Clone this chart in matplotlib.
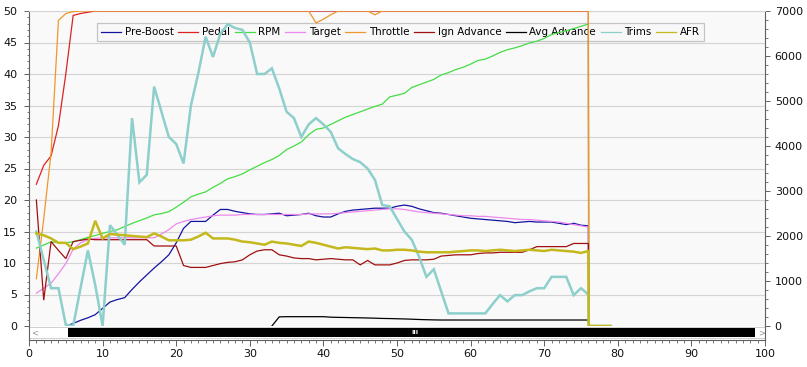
import numpy as np
import matplotlib
matplotlib.use("Agg")
import matplotlib.pyplot as plt
from matplotlib.ticker import MultipleLocator
from matplotlib.patches import Rectangle
from matplotlib.lines import Line2D

plt.rcParams['font.family'] = ['DejaVu Sans']

# ---------------- data ----------------
samples = list(range(1, 77))
end_samples = [76.05, 77, 78, 79]
end_values = [0, 0, 0, 0]
nan = np.nan

pre_boost = [nan, nan, nan, nan, 0.0, 0.4, 0.9, 1.3, 1.8, 2.8,
             3.8, 4.2, 4.5, 5.8, 7.0, 8.1, 9.2, 10.2, 11.3, 13.2,
             15.5, 16.6, 16.6, 16.6, 17.6, 18.5, 18.5, 18.2, 18.0, 17.8,
             17.7, 17.7, 17.8, 17.9, 17.5, 17.6, 17.7, 17.9, 17.5, 17.3,
             17.3, 17.8, 18.2, 18.4, 18.5, 18.6, 18.7, 18.7, 18.7, 19.0,
             19.2, 19.0, 18.6, 18.3, 18.0, 17.9, 17.7, 17.5, 17.3, 17.1,
             17.0, 16.9, 16.8, 16.7, 16.6, 16.4, 16.5, 16.6, 16.5, 16.5,
             16.5, 16.3, 16.1, 16.3, 16.0, 15.9]

pedal = [22.5, 25.5, 27.0, 31.8, 40.0, 49.3, 49.6, 49.8] + [50.0] * 68

rpm = [1730, 1800, 1870, 1850, 1850, 1870, 1920, 1970, 2010, 2060,
       2100, 2140, 2210, 2280, 2340, 2400, 2470, 2500, 2540, 2640,
       2750, 2870, 2930, 2980, 3080, 3170, 3270, 3320, 3380, 3470,
       3550, 3630, 3700, 3790, 3920, 4000, 4090, 4250, 4370, 4400,
       4480, 4560, 4640, 4700, 4760, 4820, 4880, 4930, 5090, 5130,
       5170, 5300, 5360, 5420, 5480, 5580, 5630, 5700, 5750, 5820,
       5900, 5930, 6000, 6080, 6140, 6180, 6230, 6290, 6330, 6390,
       6480, 6520, 6560, 6610, 6660, 6710]

target = [5.2, 6.0, 6.8, 8.3, 9.9, 12.2, 13.2, 13.7, 13.9, 14.0,
          14.0, 14.0, 14.0, 14.0, 14.0, 14.0, 14.0, 14.6, 15.3, 16.2,
          16.6, 16.9, 17.1, 17.3, 17.5, 17.6, 17.6, 17.6, 17.7, 17.7,
          17.7, 17.7, 17.7, 17.7, 17.7, 17.7, 17.7, 17.8, 17.8, 17.8,
          17.8, 17.9, 18.0, 18.1, 18.2, 18.3, 18.4, 18.5, 18.6, 18.6,
          18.5, 18.3, 18.1, 18.0, 17.9, 17.8, 17.7, 17.6, 17.5, 17.5,
          17.4, 17.4, 17.3, 17.2, 17.1, 17.0, 16.9, 16.9, 16.8, 16.7,
          16.6, 16.5, 16.3, 16.1, 15.9, 15.7]

throttle = [7.5, 17.0, 27.5, 48.5, 49.6, 49.9] + [50.0] * 32 + \
           [48.1, 48.7, 49.4, 50.0, 50.0, 50.0, 50.0, 50.0, 49.4, 50.0] + [50.0] * 28

ign_advance = [20.0, 4.1, 13.4, 12.0, 10.7, 13.4, 13.6, 13.8, 13.7, 13.7,
               13.7, 13.7, 13.7, 13.7, 13.7, 13.7, 12.7, 12.7, 12.7, 12.7,
               9.6, 9.3, 9.3, 9.3, 9.6, 9.9, 10.1, 10.2, 10.5, 11.3,
               11.9, 12.1, 12.1, 11.3, 11.1, 10.8, 10.7, 10.7, 10.5, 10.6,
               10.7, 10.6, 10.5, 10.5, 9.7, 10.4, 9.7, 9.7, 9.7, 10.0,
               10.4, 10.5, 10.5, 10.5, 10.6, 11.1, 11.2, 11.3, 11.3, 11.3,
               11.5, 11.6, 11.6, 11.7, 11.7, 11.7, 11.7, 12.1, 12.6, 12.6,
               12.6, 12.6, 12.6, 13.1, 13.1, 13.1]

avg_advance = [nan] * 32 + [0.0, 1.45, 1.48, 1.48, 1.48, 1.48, 1.48, 1.48,
                            1.40, 1.37, 1.35, 1.32, 1.30, 1.27, 1.24, 1.20, 1.18, 1.15,
                            1.12, 1.08, 1.03, 1.00, 0.97] + [0.95] * 21

trims = [15.0, 10.5, 6.0, 6.0, 0.2, 0.0, 6.0, 12.0, 6.5, 0.0,
         16.0, 14.5, 12.9, 33.0, 22.8, 24.0, 38.0, 34.0, 30.0, 28.9,
         25.8, 35.0, 40.1, 45.9, 42.7, 46.4, 47.9, 47.3, 47.0, 45.0,
         40.0, 40.0, 40.9, 37.7, 34.0, 33.0, 30.0, 32.0, 33.0, 32.0,
         30.8, 28.2, 27.3, 26.5, 26.0, 25.0, 23.2, 19.2, 19.0, 17.0,
         15.0, 13.7, 11.0, 7.8, 9.0, 5.5, 2.0, 2.0, 2.0, 2.0,
         2.0, 2.0, 3.5, 4.9, 3.9, 4.9, 4.9, 5.5, 6.0, 6.0,
         7.8, 7.8, 7.8, 4.9, 6.0, 5.0]

afr = [14.7, 14.4, 13.9, 13.2, 13.2, 12.2, 12.6, 13.1, 16.7, 13.9,
       14.6, 14.5, 14.4, 14.3, 14.2, 14.1, 14.7, 14.2, 13.6, 13.6,
       13.6, 13.7, 14.2, 14.8, 13.9, 13.9, 13.9, 13.7, 13.4, 13.3,
       13.1, 12.9, 13.4, 13.2, 13.1, 12.9, 12.7, 13.4, 13.2, 12.9,
       12.6, 12.3, 12.5, 12.4, 12.3, 12.2, 12.3, 12.0, 12.0, 12.1,
       12.1, 12.0, 11.8, 11.7, 11.7, 11.7, 11.7, 11.8, 11.9, 12.0,
       12.0, 11.9, 12.0, 12.1, 12.0, 11.9, 12.0, 12.1, 12.0, 11.9,
       12.1, 12.0, 11.9, 11.8, 11.6, 11.9]

left_max = 50
rpm_max = 7000

# ---------------- figure ----------------
W, H = 807, 367
fig = plt.figure(figsize=(W / 100, H / 100), dpi=100)
fig.patch.set_facecolor('white')

def fx(px):
    return px / W

def fy(py):
    return 1 - py / H

ax_l, ax_r, ax_t, ax_b = 29, 765, 11, 326
ax = fig.add_axes([fx(ax_l), fy(ax_b), fx(ax_r) - fx(ax_l), fy(ax_t) - fy(ax_b)])
ax.set_facecolor('#f9f9f9')

xs = samples + end_samples

def full(vals):
    return list(vals) + end_values

rpm_scaled = [v * left_max / rpm_max for v in rpm]

series = [
    ("Pre-Boost", pre_boost, '#1414a0', 0.9),
    ("Pedal", pedal, '#dd2222', 0.9),
    ("RPM", rpm_scaled, '#44dd44', 0.9),
    ("Target", target, '#ee88ee', 0.9),
    ("Throttle", throttle, '#f0962a', 0.9),
    ("Ign Advance", ign_advance, '#a01010', 0.9),
    ("Avg Advance", avg_advance, '#000000', 0.9),
    ("Trims", trims, '#8ccfcb', 1.8),
    ("AFR", afr, '#c4b81c', 1.8),
]

handles = []
for i, (name, vals, color, lw) in enumerate(series):
    ax.plot(xs, full(vals), color=color, lw=lw, label=name,
            zorder=3 + i * 0.1, solid_joinstyle='miter')
    handles.append(Line2D([], [], color=color, lw=0.9))

ax.set_xlim(0, 100)
ax.set_ylim(0, left_max)

ax.yaxis.set_major_locator(MultipleLocator(5))
ax.yaxis.set_minor_locator(MultipleLocator(1))
ax.xaxis.set_major_locator(MultipleLocator(10))
ax.xaxis.set_minor_locator(MultipleLocator(1))

ax.set_axisbelow(True)
ax.grid(axis='y', which='major', color='#d4d4d4', lw=0.8)

spine_col = '#606060'
ax.spines['top'].set_color('#d4d4d4')
ax.spines['top'].set_linewidth(0.8)
ax.spines['right'].set_visible(False)
ax.spines['left'].set_color(spine_col)
ax.spines['left'].set_linewidth(0.8)
ax.spines['bottom'].set_position(('outward', 10.1))
ax.spines['bottom'].set_color(spine_col)
ax.spines['bottom'].set_linewidth(0.8)

ax.tick_params(axis='y', which='major', direction='out', length=3.5, width=0.7,
               color=spine_col, labelsize=8, pad=5, labelcolor='#111111')
ax.tick_params(axis='y', which='minor', direction='out', length=1.8, width=0.6, color=spine_col)
ax.tick_params(axis='x', which='major', direction='out', length=4, width=0.7,
               color=spine_col, labelsize=8, pad=2.5, labelcolor='#111111')
ax.tick_params(axis='x', which='minor', direction='out', length=2, width=0.6, color=spine_col)
ax.xaxis.get_offset_text().set_visible(False)
ax.yaxis.get_offset_text().set_visible(False)

# secondary axis for RPM
sec = ax.secondary_yaxis('right', functions=(lambda y: y * rpm_max / left_max,
                                             lambda r: r * left_max / rpm_max))
sec.yaxis.set_major_locator(MultipleLocator(1000))
sec.yaxis.set_minor_locator(MultipleLocator(200))
sec.spines['right'].set_color(spine_col)
sec.spines['right'].set_linewidth(0.8)
sec.tick_params(axis='y', which='major', direction='out', length=3.5, width=0.7,
                color=spine_col, labelsize=8, pad=3.5, labelcolor='#111111')
sec.tick_params(axis='y', which='minor', direction='out', length=1.8, width=0.6, color=spine_col)
sec.yaxis.get_offset_text().set_visible(False)

# legend
leg = ax.legend(handles, [s[0] for s in series], loc='upper left',
                bbox_to_anchor=((97 - ax_l) / (ax_r - ax_l), (ax_b - 23) / (ax_b - ax_t)),
                borderaxespad=0, ncol=9, fontsize=7.4, frameon=True, fancybox=False,
                handlelength=1.95, handletextpad=0.35, columnspacing=0.45,
                borderpad=0.4, framealpha=1)
leg.get_frame().set_facecolor('#f8f8f8')
leg.get_frame().set_edgecolor('#c4c4c4')
leg.get_frame().set_linewidth(0.9)
leg.set_zorder(1.5)

# scrollbar between plot area and x axis
fig.patches.append(Rectangle((fx(29), fy(338)), fx(765) - fx(29), fy(327) - fy(338),
                             transform=fig.transFigure, facecolor='white',
                             edgecolor='#c8c8c8', lw=0.6, zorder=1))
fig.patches.append(Rectangle((fx(68), fy(337)), fx(755) - fx(68), fy(328) - fy(337),
                             transform=fig.transFigure, facecolor='black',
                             edgecolor='none', zorder=2))
fig.text(fx(35), fy(332.5), '<', fontsize=6, color='#909090', ha='center', va='center')
fig.text(fx(762), fy(332.5), '>', fontsize=6, color='#909090', ha='center', va='center')
fig.text(fx(415), fy(332.5), 'III', fontsize=4.5, color='white', ha='center', va='center',
         fontweight='bold')

# vertical axis extensions down to the x axis line
fig.add_artist(Line2D([fx(29), fx(29)], [fy(326), fy(340)], color=spine_col, lw=0.8))
fig.add_artist(Line2D([fx(765), fx(765)], [fy(326), fy(340)], color=spine_col, lw=0.8))

fig.savefig('out.png', dpi=100)
